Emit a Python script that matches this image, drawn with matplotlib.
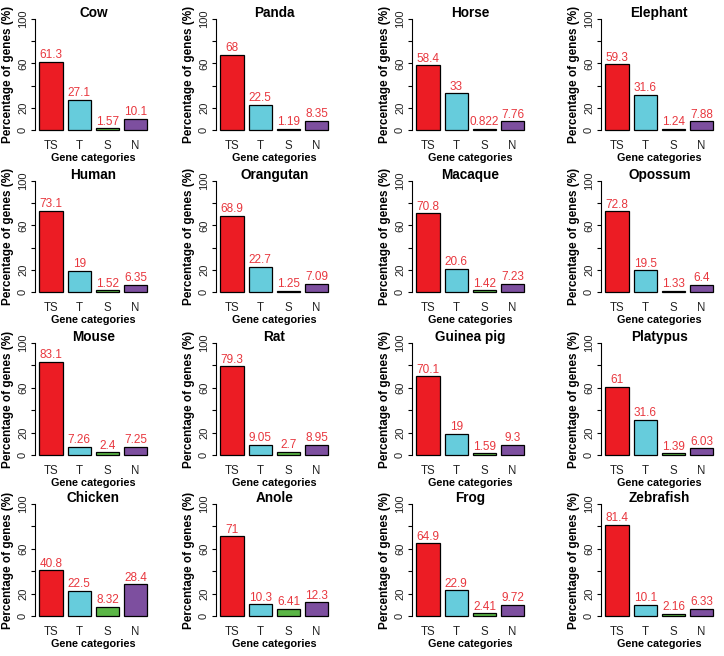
import matplotlib
matplotlib.use("Agg")
import matplotlib.pyplot as plt
import numpy as np

plt.rcParams['font.family'] = ['Liberation Sans', 'DejaVu Sans']

species = ['Cow', 'Panda', 'Horse', 'Elephant',
           'Human', 'Orangutan', 'Macaque', 'Opossum',
           'Mouse', 'Rat', 'Guinea pig', 'Platypus',
           'Chicken', 'Anole', 'Frog', 'Zebrafish']
categories = ['TS', 'T', 'S', 'N']
ts_pct = [61.3, 68, 58.4, 59.3, 73.1, 68.9, 70.8, 72.8,
          83.1, 79.3, 70.1, 61, 40.8, 71, 64.9, 81.4]
t_pct = [27.1, 22.5, 33, 31.6, 19, 22.7, 20.6, 19.5,
         7.26, 9.05, 19, 31.6, 22.5, 10.3, 22.9, 10.1]
s_pct = [1.57, 1.19, 0.822, 1.24, 1.52, 1.25, 1.42, 1.33,
         2.4, 2.7, 1.59, 1.39, 8.32, 6.41, 2.41, 2.16]
n_pct = [10.1, 8.35, 7.76, 7.88, 6.35, 7.09, 7.23, 6.4,
         7.25, 8.95, 9.3, 6.03, 28.4, 12.3, 9.72, 6.33]

colors = ['#ec1c24', '#66ccdc', '#5bb646', '#7d4f9f']
label_color = '#e8373e'

W, H = 724, 656
fig = plt.figure(figsize=(W / 100, H / 100), dpi=100)

# pixel position of the y axis line (per column) and of the 0 / 100 levels (per row)
col_x = [35, 216, 412, 601]
row_y0 = [130, 292, 455, 616]
row_y100 = [19, 181, 343, 504]

# R barplot style geometry
bar_x = 0.7 + 1.2 * np.arange(4)
xlim = (0.2 - 0.184, 4.8 + 0.184)
ylim = (-4, 104)
unit_px = 23.5

for i, name in enumerate(species):
    r, c = divmod(i, 4)
    vals = [ts_pct[i], t_pct[i], s_pct[i], n_pct[i]]
    px_per_y = (row_y0[r] - row_y100[r]) / 100.0
    ax_w = (xlim[1] - xlim[0]) * unit_px
    ax_h = (ylim[1] - ylim[0]) * px_per_y
    bottom_px = row_y0[r] + 4 * px_per_y
    ax = fig.add_axes([col_x[c] / W, (H - bottom_px) / H, ax_w / W, ax_h / H])

    ax.bar(bar_x, vals, width=1.0, color=colors, edgecolor='black', linewidth=0.9)
    for x, v in zip(bar_x, vals):
        ax.text(x, v + 0.6, f'{v:.3g}', ha='center', va='bottom',
                color=label_color, fontsize=8.5)

    ax.set_xlim(*xlim)
    ax.set_ylim(*ylim)
    for s in ['top', 'right', 'bottom']:
        ax.spines[s].set_visible(False)
    ax.spines['left'].set_bounds(0, 100)
    ax.spines['left'].set_linewidth(0.8)
    ax.set_yticks(np.arange(0, 101, 20))
    ax.set_yticklabels(['0', '20', '', '60', '', '100'], rotation=90, va='center')
    ax.tick_params(axis='y', length=3, width=0.8, pad=2, labelsize=8, labelcolor='#222222')
    ax.set_xticks(bar_x)
    ax.set_xticklabels(categories)
    ax.tick_params(axis='x', length=0, pad=3.8, labelsize=8.3, labelcolor='#222222')

    ax.set_ylabel('Percentage of genes (%)', fontsize=8.5, fontweight='bold')
    ax.yaxis.label.set_va('center')
    ax.yaxis.set_label_coords(-0.23, 0.5)
    ax.set_xlabel('Gene categories', fontsize=7.8, fontweight='bold')
    ax.xaxis.label.set_va('center')
    ax.xaxis.set_label_coords(0.5, -0.195)
    ax.text(0.5, 0.98, name, transform=ax.transAxes, ha='center', va='baseline',
            fontsize=9.8, fontweight='bold')

fig.savefig('out.png', dpi=100)
